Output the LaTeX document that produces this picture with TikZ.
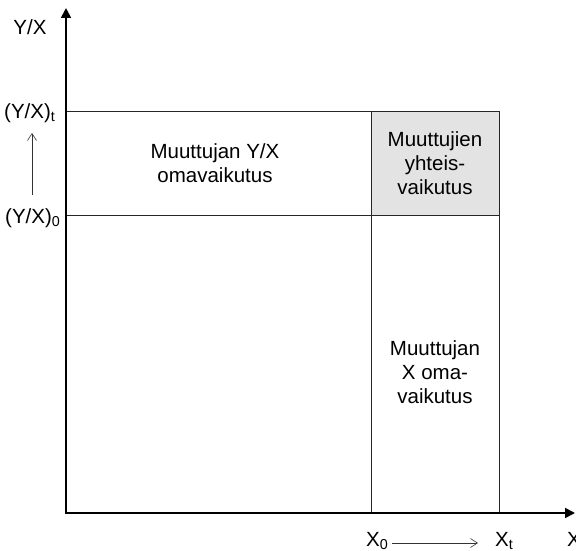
\documentclass[tikz,border=0pt]{standalone}
\usepackage{fontspec}
\setmainfont{Liberation Sans}
\usetikzlibrary{arrows.meta}
\begin{document}
\begin{tikzpicture}[x=1pt,y=-1pt,
  lbl/.style={font=\fontsize{20.5}{24}\selectfont, inner sep=0pt},
  box/.style={lbl, align=center},
  axis/.style={line width=1.8pt, -{Triangle[length=10pt,width=10pt]}},
  grid/.style={line width=0.9pt, black!85},
  small/.style={line width=0.6pt, black!80, -{Straight Barb[length=7pt,width=9pt]}}]
\useasboundingbox (0,0) rectangle (576,551);
% named coordinates
\coordinate (O) at (66,513);
\coordinate (ytop) at (66,8);
\coordinate (xend) at (575,513);
\coordinate (a1) at (66,111);
\coordinate (a2) at (66,215);
\coordinate (b1) at (371,111);
\coordinate (b2) at (371,215);
\coordinate (b3) at (371,513);
\coordinate (c1) at (499,111);
\coordinate (c2) at (499,215);
\coordinate (c3) at (499,513);
% grey box
\fill[black!11] (b1) rectangle (c2);
% grid lines
\draw[grid] (a1) -- (c1);
\draw[grid] (a2) -- (c2);
\draw[grid] (b1) -- (b3);
\draw[grid] (c1) -- (c3);
% axes
\draw[axis] (O) -- (ytop);
\draw[axis] ([xshift=-0.9pt]O) -- (xend);
% labels
\node[lbl] (ylab) at (30,27) {Y/X};
\node[lbl, anchor=base west] (yt) at (4,118) {(Y/X)\textsubscript{t}};
\node[lbl, anchor=base west] (y0) at (5,223) {(Y/X)\textsubscript{0}};
\draw[small] (32,195) coordinate (sa) -- (32,133) coordinate (sb);
\node[box] (yown) at (215,163) {Muuttujan Y/X\\omavaikutus};
\node[box] (joint) at (435,163) {Muuttujien\\yhteis-\\vaikutus};
\node[box] (xown) at (435,372) {Muuttujan\\X oma-\\vaikutus};
\node[lbl, anchor=base west] (x0) at (366,546) {X\textsubscript{0}};
\node[lbl, anchor=base west] (xt) at (495,546) {X\textsubscript{t}};
\node[lbl, anchor=base west] (xl) at (567,546) {X};
\draw[small] (392,543) coordinate (xa) -- (478,543) coordinate (xb);
\end{tikzpicture}
\end{document}
